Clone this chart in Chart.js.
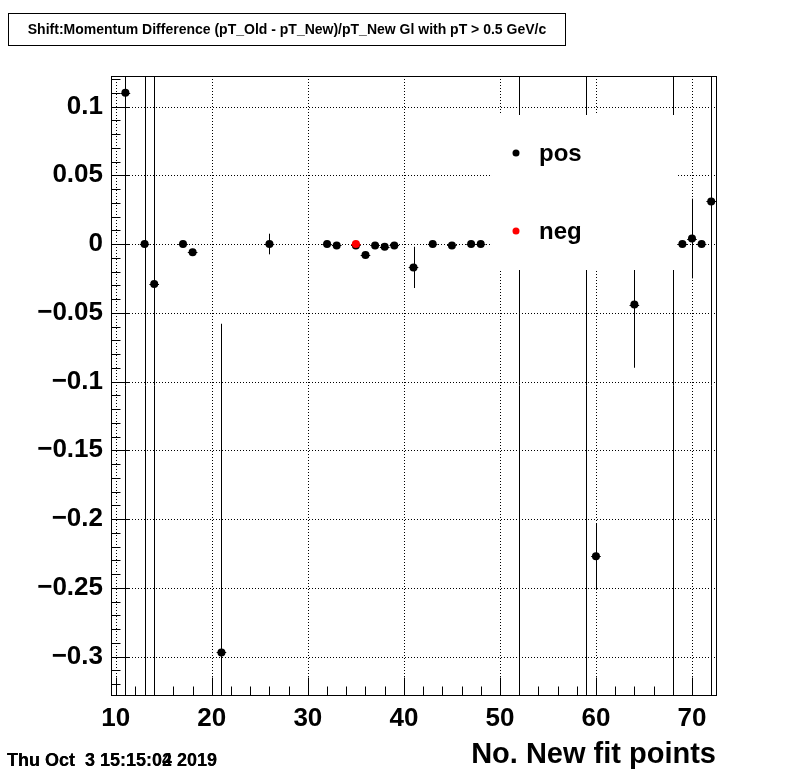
<!DOCTYPE html>
<html><head><meta charset="utf-8">
<script src="https://cdn.jsdelivr.net/npm/chart.js@4"></script>
<style>html,body{margin:0;padding:0;background:#fff;} canvas{display:block;}</style>
</head><body>
<canvas id="c" width="796" height="773"></canvas>
<script>
const FONT = '"Liberation Sans", Arial, Helvetica, sans-serif';
const titleText = 'Shift:Momentum Difference (pT_Old - pT_New)/pT_New Gl with pT > 0.5 GeV/c';
const xTitle = 'No. New fit points';
const stampTexts = ['Thu Oct  3 15:15:04 2019', 'Thu Oct  3 15:15:02 2019'];
const legendLabels = ['pos', 'neg'];

// series: pos
const posX   = [11, 13, 14, 17, 18, 21, 26, 32, 33, 35, 36, 37, 38, 39, 41, 43, 45, 47, 48, 52, 59, 60, 64, 68, 69, 70, 71, 72];
const posY   = [0.110, 0.000, -0.029, 0.000, -0.006, -0.297, 0.000, 0.000, -0.001, -0.001, -0.008, -0.001, -0.002, -0.001, -0.017, 0.000, -0.001, 0.000, 0.000, 0.000, 0.000, -0.227, -0.044, 0.000, 0.000, 0.004, 0.000, 0.031];
const posErr = [0.6, 0.6, 0.6, 0.001, 0.001, 0.239, 0.0075, 0.001, 0.001, 0.001, 0.001, 0.001, 0.001, 0.001, 0.015, 0.001, 0.001, 0.001, 0.001, 0.6, 0.6, 0.024, 0.046, 0.6, 0.001, 0.029, 0.001, 0.6];
// series: neg
const negX   = [35];
const negY   = [0.000];
const negErr = [0.001];

const xTicks = [10, 20, 30, 40, 50, 60, 70];
const yTicks = [-0.3, -0.25, -0.2, -0.15, -0.1, -0.05, 0, 0.05, 0.1];

const toPts = (xs, ys, es) => xs.map((v, i) => ({x: v, y: ys[i], e: es[i]}));

function ln(ctx, x1, y1, x2, y2) { ctx.beginPath(); ctx.moveTo(x1, y1); ctx.lineTo(x2, y2); ctx.stroke(); }

const rootPlugin = {
  id: 'rootStyle',
  beforeDatasetsDraw(chart) {
    const {ctx, chartArea: a, scales: {x, y}} = chart;
    ctx.save();
    ctx.strokeStyle = '#000'; ctx.lineWidth = 1; ctx.setLineDash([1, 2]);
    xTicks.forEach(v => { const p = Math.round(x.getPixelForValue(v)) + 0.5; ln(ctx, p, a.top, p, a.bottom); });
    yTicks.forEach(v => { const p = Math.round(y.getPixelForValue(v)) + 0.5; ln(ctx, a.left, p, a.right, p); });
    ctx.setLineDash([]);
    ctx.beginPath(); ctx.rect(a.left, a.top, a.right - a.left, a.bottom - a.top); ctx.clip();
    const drawBars = (ds, col) => {
      ctx.strokeStyle = col;
      ds.data.forEach(d => {
        const px = Math.round(x.getPixelForValue(d.x)) + 0.5;
        const py = Math.round(y.getPixelForValue(d.y)) + 0.5;
        ln(ctx, px, y.getPixelForValue(d.y + d.e), px, y.getPixelForValue(d.y - d.e));
        ln(ctx, x.getPixelForValue(d.x - 0.5), py, x.getPixelForValue(d.x + 0.5), py);
      });
    };
    drawBars(chart.data.datasets[1], '#ff0000');
    drawBars(chart.data.datasets[0], '#000000');
    ctx.restore();
  },
  afterDatasetsDraw(chart) {
    const {ctx, chartArea: a, scales: {x, y}} = chart;
    ctx.save();
    // legend box (white, no border)
    ctx.fillStyle = '#fff';
    ctx.fillRect(492, 115, 185, 155);
    const cols = ['#000000', '#ff0000'];
    const ly = [153, 231];
    ctx.font = 'bold 24px ' + FONT; ctx.textAlign = 'left'; ctx.textBaseline = 'alphabetic';
    legendLabels.forEach((t, i) => {
      ctx.fillStyle = cols[i];
      ctx.beginPath(); ctx.arc(516, ly[i], 3.5, 0, Math.PI * 2); ctx.fill();
      ctx.fillStyle = '#000';
      ctx.fillText(t, 539, ly[i] + 8);
    });
    // frame
    ctx.strokeStyle = '#000'; ctx.lineWidth = 1;
    ctx.strokeRect(Math.round(a.left) + 0.5, Math.round(a.top) + 0.5, Math.round(a.right - a.left), Math.round(a.bottom - a.top));
    // x ticks
    const bot = Math.round(a.bottom) + 0.5;
    for (let v = 10; v <= 72; v += 2) {
      const p = Math.round(x.getPixelForValue(v)) + 0.5;
      ln(ctx, p, bot, p, bot - (v % 10 === 0 ? 18 : 9));
    }
    // y ticks
    const lft = Math.round(a.left) + 0.5;
    for (let k = -32; k <= 12; k++) {
      const p = Math.round(y.getPixelForValue(k / 100)) + 0.5;
      ln(ctx, lft, p, lft + (k % 5 === 0 ? 18 : 9), p);
    }
    // title box
    ctx.strokeRect(8.5, 13.5, 557, 32);
    ctx.fillStyle = '#000';
    ctx.font = 'bold 14px ' + FONT; ctx.textAlign = 'center'; ctx.textBaseline = 'middle';
    ctx.fillText(titleText, 287, 30);
    // x axis title
    ctx.font = 'bold 29px ' + FONT; ctx.textAlign = 'right'; ctx.textBaseline = 'alphabetic';
    ctx.fillText(xTitle, 716, 763);
    // timestamp
    ctx.font = 'bold 18px ' + FONT; ctx.textAlign = 'left';
    stampTexts.forEach(t => ctx.fillText(t, 7, 766));
    ctx.restore();
  }
};

const fmt = v => (v === 0 ? '0' : String(v).replace('-', '\u2212'));

new Chart(document.getElementById('c'), {
  type: 'scatter',
  data: {
    datasets: [
      {label: legendLabels[0], data: toPts(posX, posY, posErr), pointRadius: 4, pointBackgroundColor: '#000', pointBorderWidth: 0, order: 1},
      {label: legendLabels[1], data: toPts(negX, negY, negErr), pointRadius: 4, pointBackgroundColor: '#ff0000', pointBorderWidth: 0, order: 0}
    ]
  },
  options: {
    responsive: false, animation: false, devicePixelRatio: 1,
    layout: {padding: {left: 0, top: 76, right: 80, bottom: 0}},
    plugins: {legend: {display: false}, tooltip: {enabled: false}},
    scales: {
      x: {
        type: 'linear', min: 9.5, max: 72.5,
        grid: {display: false, drawTicks: false}, border: {display: false},
        afterBuildTicks: s => { s.ticks = xTicks.map(v => ({value: v})); },
        afterFit: s => { s.height = 78; },
        ticks: {autoSkip: false, maxRotation: 0, padding: 8, color: '#000', font: {family: FONT, size: 26, weight: 'bold'}, callback: fmt}
      },
      y: {
        type: 'linear', min: -0.328, max: 0.1222,
        grid: {display: false, drawTicks: false}, border: {display: false},
        afterBuildTicks: s => { s.ticks = yTicks.map(v => ({value: v})); },
        afterFit: s => { s.width = 111; },
        ticks: {autoSkip: false, padding: 8, color: '#000', font: {family: FONT, size: 26, weight: 'bold'}, callback: fmt}
      }
    }
  },
  plugins: [rootPlugin]
});
</script>
</body></html>
